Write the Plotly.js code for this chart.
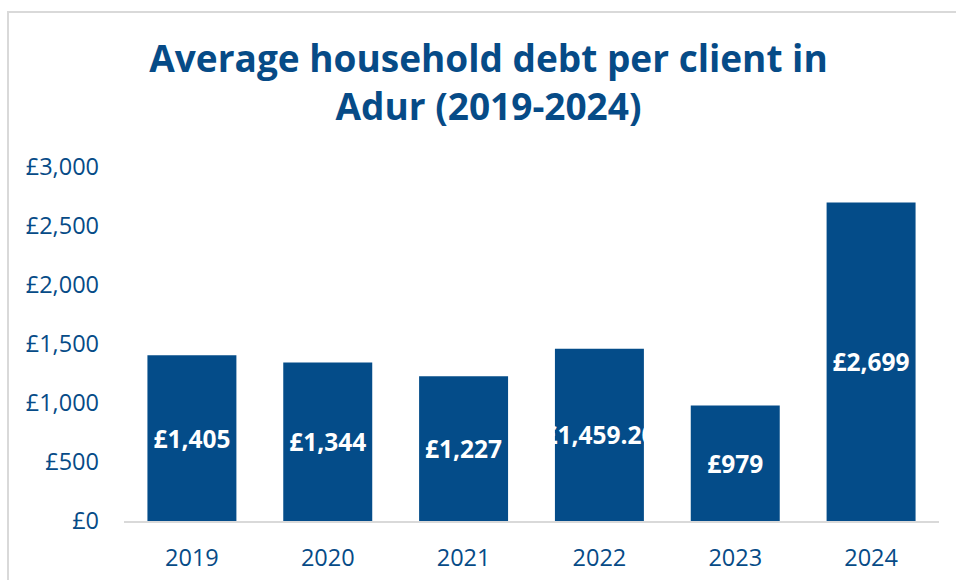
<!DOCTYPE html>
<html>
<head>
<meta charset="utf-8">
<script src="https://cdn.plot.ly/plotly-3.0.1.min.js"></script>
<style>
  html, body { margin: 0; padding: 0; background: #ffffff; overflow: hidden; }
  #chart { position: absolute; left: 0; top: 0; width: 956px; height: 580px; }
  #frame { position: absolute; left: 7px; top: 11px; width: 1000px; height: 700px;
           border: 2px solid #d9d9d9; pointer-events: none; }
</style>
</head>
<body>
<div id="chart"></div>
<div id="frame"></div>
<script>
const years = ["2019", "2020", "2021", "2022", "2023", "2024"];
const debt = [1405, 1344, 1227, 1459.20, 979, 2699];
const debtLabels = ["£1,405", "£1,344", "£1,227", "£1,459.20", "£979", "£2,699"];
const yTicks = [0, 500, 1000, 1500, 2000, 2500, 3000];
const yTickLabels = ["£0", "£500", "£1,000", "£1,500", "£2,000", "£2,500", "£3,000"];

const blue = "#064b87";
const barBlue = "#044c89";

const trace = {
  type: "bar",
  x: years,
  y: debt,
  text: debtLabels,
  textposition: "inside",
  insidetextanchor: "middle",
  constraintext: "none",
  textangle: 0,
  textfont: { family: "Open Sans", size: 24.5, color: "#ffffff", weight: "bold" },
  marker: { color: barBlue },
  hoverinfo: "none"
};

const layout = {
  width: 956,
  height: 580,
  paper_bgcolor: "rgba(0,0,0,0)",
  plot_bgcolor: "rgba(0,0,0,0)",
  margin: { l: 124, r: 17, t: 167, b: 59 },
  bargap: 0.345,
  showlegend: false,
  title: {
    text: "<b>Average household debt per client in<br>Adur (2019-2024)</b>",
    x: 0.511, xanchor: "center",
    y: 0.876, yanchor: "top", yref: "container",
    font: { family: "Open Sans", size: 37, color: blue }
  },
  xaxis: {
    type: "category",
    showline: true, linecolor: "#d9d9d9", linewidth: 2,
    showgrid: false, zeroline: false, ticks: "",
    ticklabelstandoff: 15,
    tickfont: { family: "Open Sans", size: 23.5, color: blue }
  },
  yaxis: {
    range: [0, 3000],
    tickvals: yTicks, ticktext: yTickLabels,
    showgrid: false, zeroline: false, showline: false, ticks: "",
    ticklabelstandoff: 24,
    tickfont: { family: "Open Sans", size: 23.5, color: blue }
  }
};

Plotly.newPlot("chart", [trace], layout, { displayModeBar: false, staticPlot: true });
</script>
</body>
</html>
